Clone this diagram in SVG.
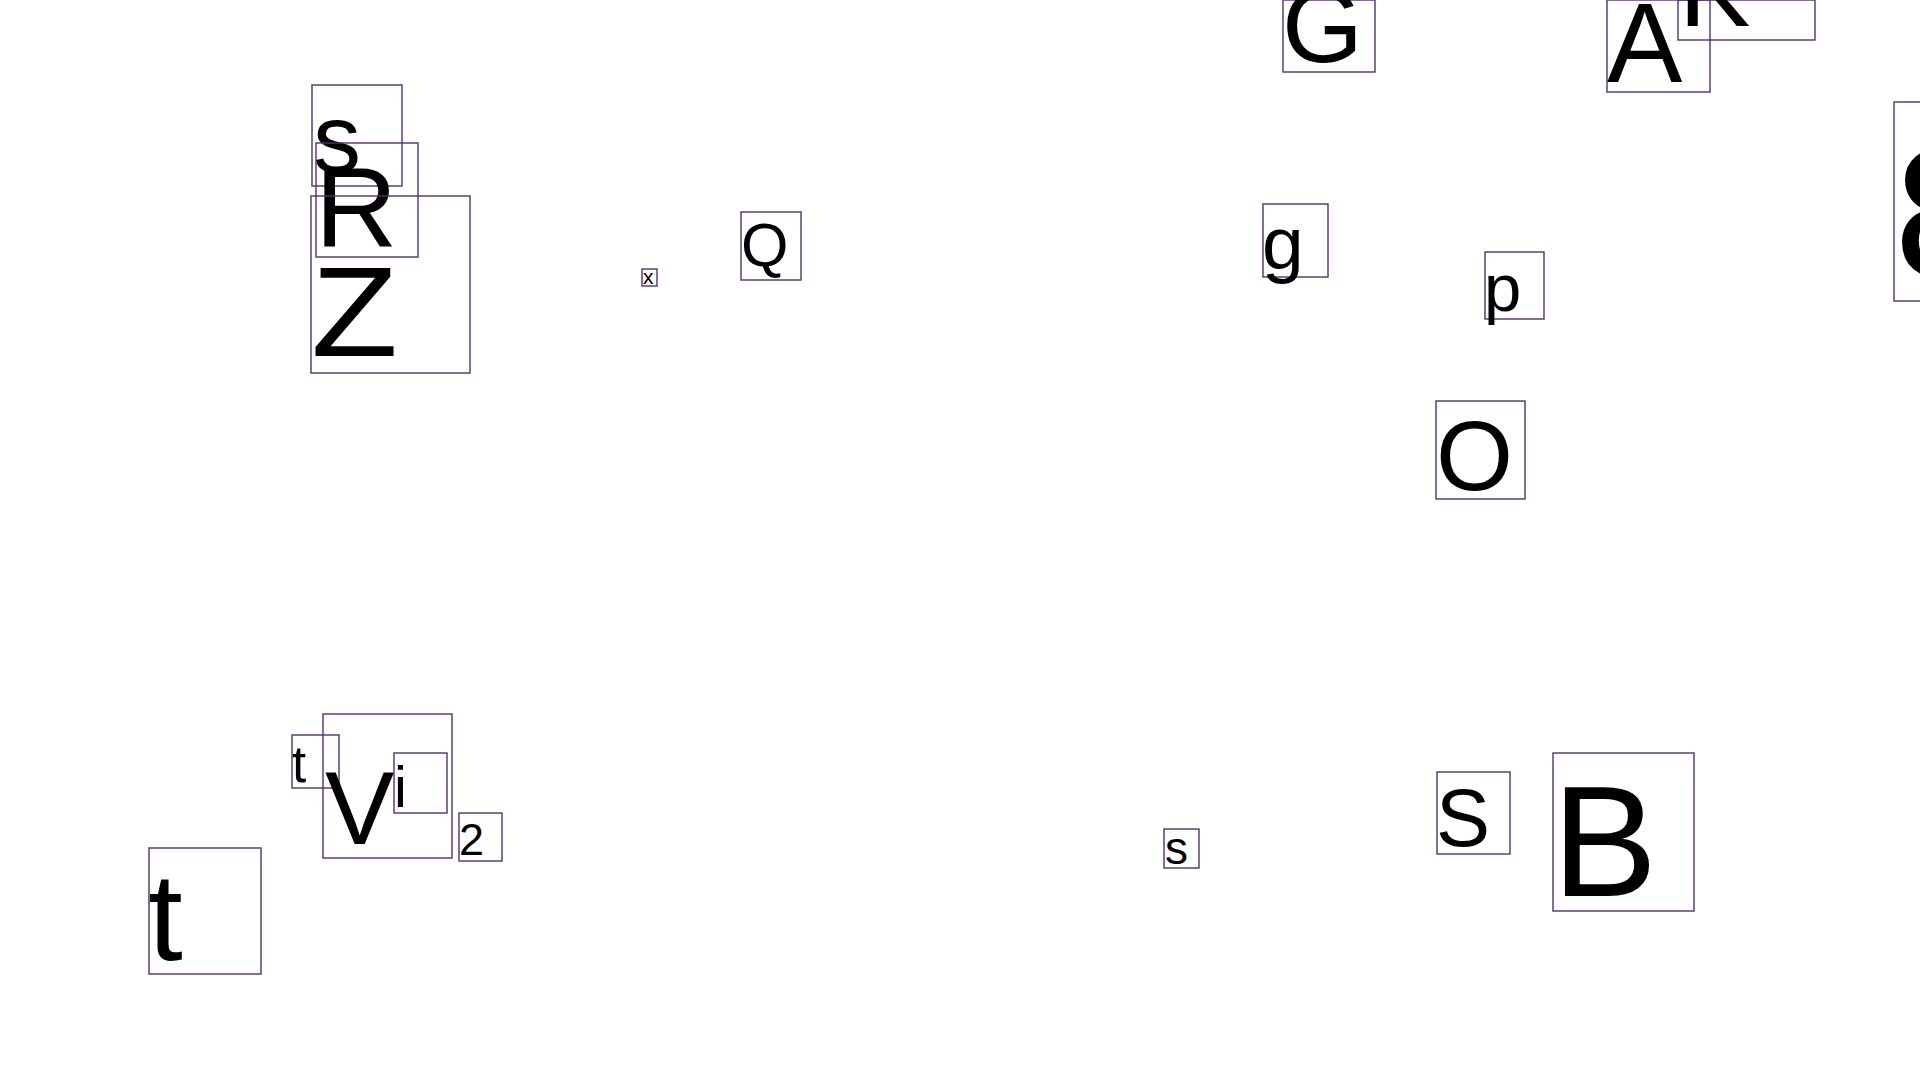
<svg xmlns="http://www.w3.org/2000/svg" width="1920" height="1080" viewBox="0 0 1920 1080">
<style>
rect.box{fill:none;stroke:#553168;stroke-width:1.4}
text{font-family:"Liberation Sans",Arial,sans-serif;fill:#000}
</style>
<rect width="1920" height="1080" fill="#fff"/>
<g id="connectors"/>
<g id="n-s1"><rect class="box" x="312" y="85" width="90" height="101"/><text x="313" y="172" font-size="96">s</text></g>
<g id="n-R"><rect class="box" x="316" y="143" width="102" height="114"/><text x="315" y="246" font-size="114">R</text></g>
<g id="n-Z"><rect class="box" x="311" y="196" width="159" height="177"/><text x="311" y="356" font-size="128" textLength="87" lengthAdjust="spacingAndGlyphs">Z</text></g>
<g id="n-x"><rect class="box" x="642" y="269" width="15" height="17"/><text x="643" y="284" font-size="21">x</text></g>
<g id="n-Q"><rect class="box" x="741" y="212" width="60" height="68"/><text x="741" y="266" font-size="61">Q</text></g>
<g id="n-G"><rect class="box" x="1283" y="0" width="92" height="72"/><text x="1282" y="62" font-size="104">G</text></g>
<g id="n-A"><rect class="box" x="1607" y="0" width="103" height="92"/><text x="1607" y="82" font-size="113">A</text></g>
<g id="n-K"><rect class="box" x="1678" y="0" width="137" height="40"/><text x="1679" y="26" font-size="107">K</text></g>
<g id="n-g"><rect class="box" x="1263" y="204" width="65" height="73"/><text x="1262" y="269" font-size="75">g</text></g>
<g id="n-p"><rect class="box" x="1485" y="252" width="59" height="67"/><text x="1484" y="311" font-size="67">p</text></g>
<g id="n-8"><rect class="box" x="1894" y="102" width="60" height="199"/><text x="1894" y="277" font-size="185">8</text></g>
<g id="n-O"><rect class="box" x="1436" y="401" width="89" height="98"/><text x="1436" y="490" font-size="99">O</text></g>
<g id="n-S"><rect class="box" x="1437" y="772" width="73" height="82"/><text x="1436" y="846" font-size="81">S</text></g>
<g id="n-B"><rect class="box" x="1553" y="753" width="141" height="158"/><text x="1552" y="896" font-size="158">B</text></g>
<g id="n-s2"><rect class="box" x="1164" y="829" width="35" height="39"/><text x="1165" y="864" font-size="46">s</text></g>
<g id="n-t1"><rect class="box" x="149" y="848" width="112" height="126"/><text x="148" y="960" font-size="125">t</text></g>
<g id="n-t2"><rect class="box" x="292" y="735" width="47" height="53"/><text x="292" y="782" font-size="51">t</text></g>
<g id="n-V"><rect class="box" x="323" y="714" width="129" height="144"/><text x="325" y="844" font-size="104">V</text></g>
<g id="n-i"><rect class="box" x="394" y="753" width="53" height="60"/><text x="394" y="807" font-size="58">i</text></g>
<g id="n-2"><rect class="box" x="459" y="813" width="43" height="48"/><text x="459" y="855" font-size="45">2</text></g>
</svg>
